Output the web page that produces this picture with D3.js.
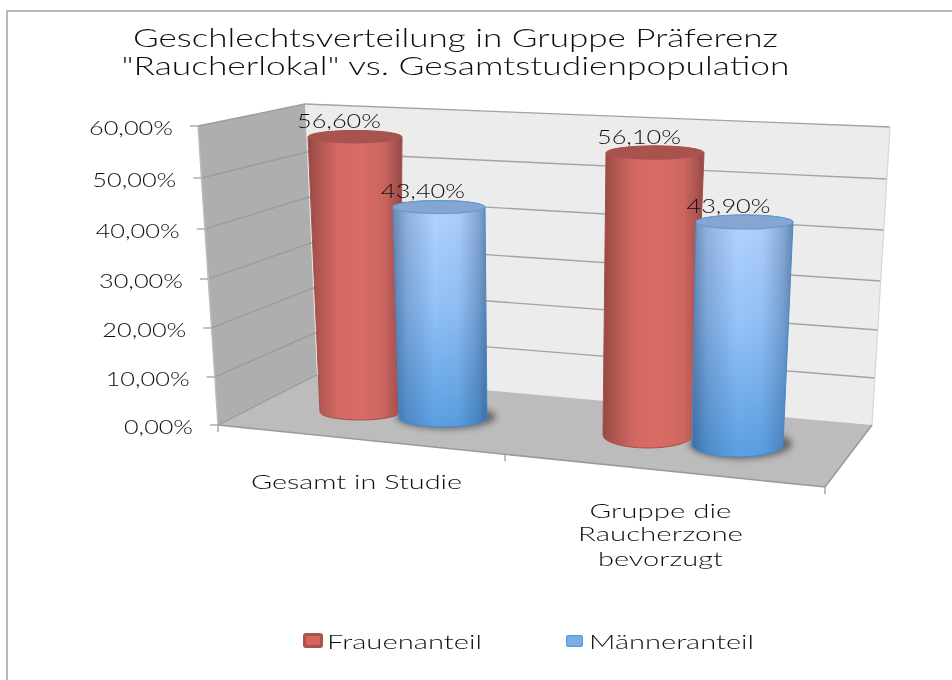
<!DOCTYPE html>
<html><head><meta charset="utf-8">
<script src="https://cdn.jsdelivr.net/npm/d3@7/dist/d3.min.js"></script>
<style>html,body{margin:0;padding:0;background:#fff}svg{display:block}text{font-family:Lato,"Open Sans",sans-serif;font-weight:300;fill:#111}</style>
</head><body><svg id="c" width="952" height="680"></svg>
<script>
// ---- data ----
const titleLines = ['Geschlechtsverteilung in Gruppe Präferenz', '"Raucherlokal" vs. Gesamtstudienpopulation'];
const categories = [['Gesamt in Studie'], ['Gruppe die', 'Raucherzone', 'bevorzugt']];
const seriesNames = ['Frauenanteil', 'Männeranteil'];
const frauenanteil = [56.6, 56.1];
const maenneranteil = [43.4, 43.9];
const tickValues = [0, 10, 20, 30, 40, 50, 60];
const tickLabels = ['0,00%', '10,00%', '20,00%', '30,00%', '40,00%', '50,00%', '60,00%'];
const barLabels = [['56,60%', '56,10%'], ['43,40%', '43,90%']];

// ---- 3D frame scales (perspective) ----
const frontY = d3.scaleLinear().domain(tickValues).range([425, 377, 328, 279, 229, 178, 126]);
const frontX = d3.scaleLinear().domain([0, 60]).range([218, 198]);
const backLY = d3.scaleLinear().domain(tickValues).range([375, 333, 288, 243, 197, 152, 104]);
const backLX = d3.scaleLinear().domain([0, 60]).range([317, 305]);
const backRY = d3.scaleLinear().domain(tickValues).range([425, 378, 330, 281, 230, 179, 127]);
const backRX = d3.scaleLinear().domain([0, 60]).range([872, 890]);
const floorFrontRight = [825, 487];
const catBoundary = d3.scaleLinear().domain([0, 1, 2]).range([218, 505, 825]);
const frontEdgeY = d3.scaleLinear().domain([218, 825]).range([425, 487]);

// per-bar perspective geometry
const barGeom = [
  [{cx0:360, rx0:40, y0:412, ry0:8, k:4.86, cx1:355, rx1:47, ry1:6.5},
   {cx0:648, rx0:45, y0:435, ry0:13, k:5.03, cx1:655, rx1:49, ry1:7}],
  [{cx0:443, rx0:44, y0:418, ry0:9, k:4.86, cx1:439, rx1:46, ry1:6.5},
   {cx0:737.5, rx0:45.5, y0:445, ry0:12, k:5.08, cx1:744.5, rx1:48.5, ry1:7}]
];

const svg = d3.select('#c');
const defs = svg.append('defs');
const soft = defs.append('filter').attr('id', 'soft').attr('x', '-5%').attr('y', '-5%').attr('width', '110%').attr('height', '110%');
soft.append('feGaussianBlur').attr('stdDeviation', 0.5);
const shadowF = defs.append('filter').attr('id', 'shadow').attr('x', '-30%').attr('y', '-60%').attr('width', '160%').attr('height', '220%');
shadowF.append('feGaussianBlur').attr('stdDeviation', 3);

function grad(id, stops, attrs) {
  const g = defs.append('linearGradient').attr('id', id).attr('x1', attrs[0]).attr('y1', attrs[1]).attr('x2', attrs[2]).attr('y2', attrs[3]);
  stops.forEach(s => g.append('stop').attr('offset', s[0]).attr('stop-color', s[1]).attr('stop-opacity', s[2] === undefined ? 1 : s[2]));
}
grad('redH', [[0, '#96483f'], [.1, '#ad5550'], [.32, '#d46963'], [.55, '#da6c66'], [.8, '#cd6560'], [.93, '#ab5551'], [1, '#934845']], [0, 0, 1, 0]);
grad('blueV', [[0, '#b5d4ff'], [.45, '#94c2f8'], [1, '#5a9fe2']], [0, 0, 0, 1]);
grad('blueH', [[0, '#1a3c66', .5], [.15, '#1a3c66', .22], [.45, '#1a3c66', 0], [.7, '#1a3c66', .04], [.9, '#1a3c66', .28], [1, '#1a3c66', .5]], [0, 0, 1, 0]);

// page frame
svg.append('path').attr('d', d3.line()([[7, 680], [7, 11], [952, 11]])).attr('fill', 'none').attr('stroke', '#b8b8b8').attr('stroke-width', 2);

const g = svg.append('g').attr('filter', 'url(#soft)');
const poly = pts => d3.line()(pts) + 'Z';

// walls and floor
g.append('path').attr('d', poly([[backLX(60), backLY(60)], [backRX(60), backRY(60)], [backRX(0), backRY(0)], [backLX(0), backLY(0)]])).attr('fill', '#ececec');
g.append('path').attr('d', poly([[frontX(60), frontY(60)], [backLX(60), backLY(60)], [backLX(0), backLY(0)], [frontX(0), frontY(0)]])).attr('fill', '#aeaeae');
g.append('path').attr('d', poly([[frontX(0), frontY(0)], [backLX(0), backLY(0)], [backRX(0), backRY(0)], floorFrontRight])).attr('fill', '#bcbcbc');

// gridlines
g.selectAll('.gb').data(tickValues.slice(1)).join('line').attr('x1', d => backLX(d)).attr('y1', d => backLY(d)).attr('x2', d => backRX(d)).attr('y2', d => backRY(d)).attr('stroke', '#a3a3a3').attr('stroke-width', 1.4);
g.selectAll('.gs').data(tickValues).join('line').attr('x1', d => frontX(d)).attr('y1', d => frontY(d)).attr('x2', d => backLX(d)).attr('y2', d => backLY(d)).attr('stroke', '#9c9c9c').attr('stroke-width', 1.4);
g.append('line').attr('x1', backRX(60)).attr('y1', backRY(60)).attr('x2', backRX(0)).attr('y2', backRY(0)).attr('stroke', '#d6d6d6').attr('stroke-width', 1.2);
g.append('line').attr('x1', frontX(60)).attr('y1', frontY(60)).attr('x2', frontX(0)).attr('y2', frontY(0)).attr('stroke', '#bdbdbd').attr('stroke-width', 1.4);
// floor edges
g.append('path').attr('d', d3.line()([[frontX(0), frontY(0)], floorFrontRight, [backRX(0), backRY(0)]])).attr('fill', 'none').attr('stroke', '#9a9a9a').attr('stroke-width', 1.6);

// axis ticks
g.selectAll('.yt').data(tickValues).join('line').attr('x1', d => frontX(d) - 8).attr('x2', d => frontX(d)).attr('y1', d => frontY(d)).attr('y2', d => frontY(d)).attr('stroke', '#a8a8a8').attr('stroke-width', 1.4);
g.selectAll('.xt').data([0, 1, 2]).join('line').attr('x1', d => catBoundary(d)).attr('x2', d => catBoundary(d)).attr('y1', d => frontEdgeY(catBoundary(d))).attr('y2', d => frontEdgeY(catBoundary(d)) + 7).attr('stroke', '#a0a0a0').attr('stroke-width', 1.4);

// bars
const allBars = [];
categories.forEach((c, ci) => {
  [frauenanteil, maenneranteil].forEach((vals, si) => {
    allBars.push({ci, si, v: vals[ci], label: barLabels[si][ci], geo: barGeom[si][ci]});
  });
});
const topY = b => b.geo.y0 - b.v * b.geo.k;

function cylinderPath(b) {
  const g = b.geo, yT = topY(b);
  const xl0 = g.cx0 - g.rx0, xr0 = g.cx0 + g.rx0, xl1 = g.cx1 - g.rx1, xr1 = g.cx1 + g.rx1;
  return `M${xl1},${yT} L${xl0},${g.y0} A${g.rx0},${g.ry0} 0 0 0 ${xr0},${g.y0} L${xr1},${yT} A${g.rx1},${g.ry1} 0 0 0 ${xl1},${yT}Z`;
}
// floor shadows
g.selectAll('.shadow').data(allBars.filter(b => b.si === 1)).join('ellipse')
  .attr('cx', b => b.geo.cx0 + 3).attr('cy', b => b.geo.y0 - 1).attr('rx', b => b.geo.rx0 + 6).attr('ry', b => b.geo.ry0 + 3)
  .attr('fill', '#444').attr('opacity', .7).attr('filter', 'url(#shadow)');

allBars.forEach(b => {
  const bar = g.append('g');
  const d = cylinderPath(b);
  if (b.si === 0) {
    bar.append('path').attr('d', d).attr('fill', 'url(#redH)').attr('stroke', '#a5504c').attr('stroke-width', 1);
    bar.append('ellipse').attr('cx', b.geo.cx1).attr('cy', topY(b)).attr('rx', b.geo.rx1).attr('ry', b.geo.ry1).attr('fill', '#a8534d');
  } else {
    bar.append('path').attr('d', d).attr('fill', 'url(#blueV)');
    bar.append('path').attr('d', d).attr('fill', 'url(#blueH)').attr('stroke', '#4a88c8').attr('stroke-width', 1);
    bar.append('ellipse').attr('cx', b.geo.cx1).attr('cy', topY(b)).attr('rx', b.geo.rx1).attr('ry', b.geo.ry1).attr('fill', '#86a5d0').attr('stroke', '#5f9dd8').attr('stroke-width', 1.2);
  }
});

// text helper: stretched to the wide letterforms of the reference
function label(parent, txt, x, y, size, width, anchor) {
  return parent.append('text').attr('x', x).attr('y', y).attr('font-size', size).attr('text-anchor', anchor || 'middle')
    .attr('textLength', width).attr('lengthAdjust', 'spacingAndGlyphs').text(txt);
}
const titleW = [645, 668];
titleLines.forEach((t, i) => label(g, t, 455.5, 47 + i * 28, 25, titleW[i]));

const tickW = v => v === 0 ? 69 : 84;
tickValues.forEach((v, i) => label(g, tickLabels[i], frontX(v) - 25, frontY(v) + 9, 20, tickW(v), 'end'));

allBars.forEach(b => label(g, b.label, b.geo.cx1 - 16, topY(b) - 9, 20, 84));

const catW = [[211], [142, 165, 125]];
const catX = [356.5, 660.5];
const catY = [[489], [518, 541, 566]];
categories.forEach((c, ci) => c.forEach((l, li) => label(g, l, catX[ci], catY[ci][li], 19.5, catW[ci][li])));

// legend
const legendSwatch = [{x: 303, y: 633, w: 20, h: 15, fill: '#d9645f', stroke: '#a8534d', sw: 3}, {x: 566, y: 635, w: 17, h: 12, fill: '#7aaee8', stroke: '#5b9bd5', sw: 1.2}];
seriesNames.forEach((n, i) => {
  const s = legendSwatch[i];
  g.append('rect').attr('x', s.x + s.sw / 2).attr('y', s.y + s.sw / 2).attr('width', s.w - s.sw).attr('height', s.h - s.sw).attr('rx', 1.5).attr('fill', s.fill).attr('stroke', s.stroke).attr('stroke-width', s.sw);
});
label(g, seriesNames[0], 327, 649, 20, 155, 'start');
label(g, seriesNames[1], 589, 649, 20, 165, 'start');
</script></body></html>
